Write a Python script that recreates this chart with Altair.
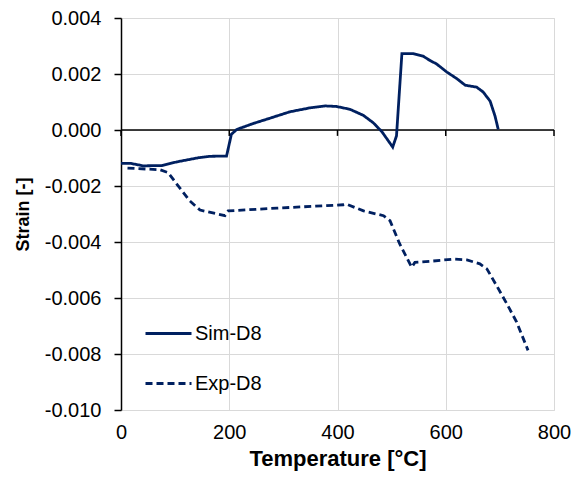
import altair as alt
import pandas as pd

# Sim-D8 (solid)
sim_t = [0, 17, 41, 75, 103, 143, 164, 195, 204, 214, 244, 275, 312, 349, 377, 398,
         423, 448, 466, 482, 502, 509, 519, 540, 558, 571, 583, 602, 620, 636, 657,
         669, 682, 691, 697]
sim_s = [-0.00119, -0.00119, -0.00128, -0.00127, -0.00114, -0.00099, -0.00094, -0.00093,
         -0.00015, 0.00002, 0.00023, 0.00042, 0.00065, 0.00079, 0.00086, 0.00084,
         0.00074, 0.00052, 0.00026, -0.00006, -0.00061, -0.00021, 0.00273, 0.00273,
         0.00264, 0.00248, 0.00236, 0.00207, 0.00184, 0.00160, 0.00153, 0.00136,
         0.00103, 0.00050, 0.00002]

# Exp-D8 (dashed)
exp_t = [12, 72, 87, 103, 127, 146, 192, 198, 288, 411, 417, 448, 485, 497, 515, 537,
         543, 571, 614, 639, 663, 676, 694, 713, 731, 752]
exp_s = [-0.00136, -0.00142, -0.00152, -0.00193, -0.00253, -0.00286, -0.00306, -0.00289,
         -0.00279, -0.00267, -0.00265, -0.00289, -0.00306, -0.00324, -0.00407, -0.00490,
         -0.00473, -0.00469, -0.00461, -0.00464, -0.00478, -0.00496, -0.00556, -0.00621,
         -0.00686, -0.00787]

series_names = ["Sim-D8", "Exp-D8"]
x_ticks = [0, 200, 400, 600, 800]
y_ticks = [-0.010, -0.008, -0.006, -0.004, -0.002, 0.0, 0.002, 0.004]

FONT = "Liberation Sans"
NAVY = "#002060"

rows = []
for i, (t, s) in enumerate(zip(sim_t, sim_s)):
    rows.append({"t": t, "s": s, "series": "Sim-D8", "i": i})
for i, (t, s) in enumerate(zip(exp_t, exp_s)):
    rows.append({"t": t, "s": s, "series": "Exp-D8", "i": i})
df = pd.DataFrame(rows)

xscale = alt.Scale(domain=[0, 800], nice=False, zero=False)
yscale = alt.Scale(domain=[-0.010, 0.004], nice=False, zero=False)

lines = alt.Chart(df).mark_line(color=NAVY, strokeWidth=2.8).encode(
    x=alt.X("t:Q", scale=xscale, axis=alt.Axis(
        values=x_ticks, title="Temperature [°C]", grid=True, gridColor="#d9d9d9",
        gridWidth=1, domain=False, ticks=False, labelFontSize=20, labelFont=FONT,
        labelColor="black", labelPadding=12, labelFlush=False, labelOverlap=False,
        titleFontSize=22, titleFont=FONT,
        titleFontWeight="bold", titleColor="black", titlePadding=6)),
    y=alt.Y("s:Q", scale=yscale, axis=alt.Axis(
        values=y_ticks, title="Strain [-]", grid=True, gridColor="#d9d9d9", gridWidth=1,
        domain=True, domainColor="black", domainWidth=1.5, ticks=True, tickColor="black",
        tickWidth=1.5, tickSize=7, labelFontSize=20, labelFont=FONT, labelColor="black",
        labelPadding=13, labelFlush=False, labelOverlap=False,
        labelExpr="(datum.value < -0.0000001 ? '-' : '') + format(abs(datum.value), '.3f')",
        titleFontSize=18, titleFont=FONT, titleFontWeight="bold", titleColor="black",
        titlePadding=12)),
    strokeDash=alt.StrokeDash("series:N", scale=alt.Scale(domain=series_names,
                              range=[[1, 0], [7, 4]]),
                              legend=alt.Legend(title=None, orient="none", legendX=23,
                                                legendY=291, symbolType="stroke",
                                                symbolSize=2116, symbolStrokeWidth=3,
                                                symbolStrokeColor=NAVY, labelFontSize=20,
                                                labelFont=FONT, labelColor="black",
                                                rowPadding=15, padding=0, labelOffset=2)),
    order="i:Q",
)

zero_df = pd.DataFrame({"s": [0.0]})
zero_line = alt.Chart(zero_df).mark_rule(color="black", strokeWidth=1.5).encode(
    y=alt.Y("s:Q"))

tick_df = pd.DataFrame({"t": x_ticks, "s": [0.0] * len(x_ticks),
                        "s2": [-0.00021] * len(x_ticks)})
zero_ticks = alt.Chart(tick_df).mark_rule(color="black", strokeWidth=1.5).encode(
    x=alt.X("t:Q"), y=alt.Y("s:Q"), y2="s2:Q")

chart = alt.layer(zero_line, zero_ticks, lines).properties(
    width=433, height=392,
    autosize=alt.AutoSizeParams(type="none"),
    padding={"left": 113, "top": 10, "right": 21, "bottom": 61},
).configure_view(stroke=None).configure(background="white")

chart.save("out.html", embed_options={"renderer": "svg", "actions": False})
